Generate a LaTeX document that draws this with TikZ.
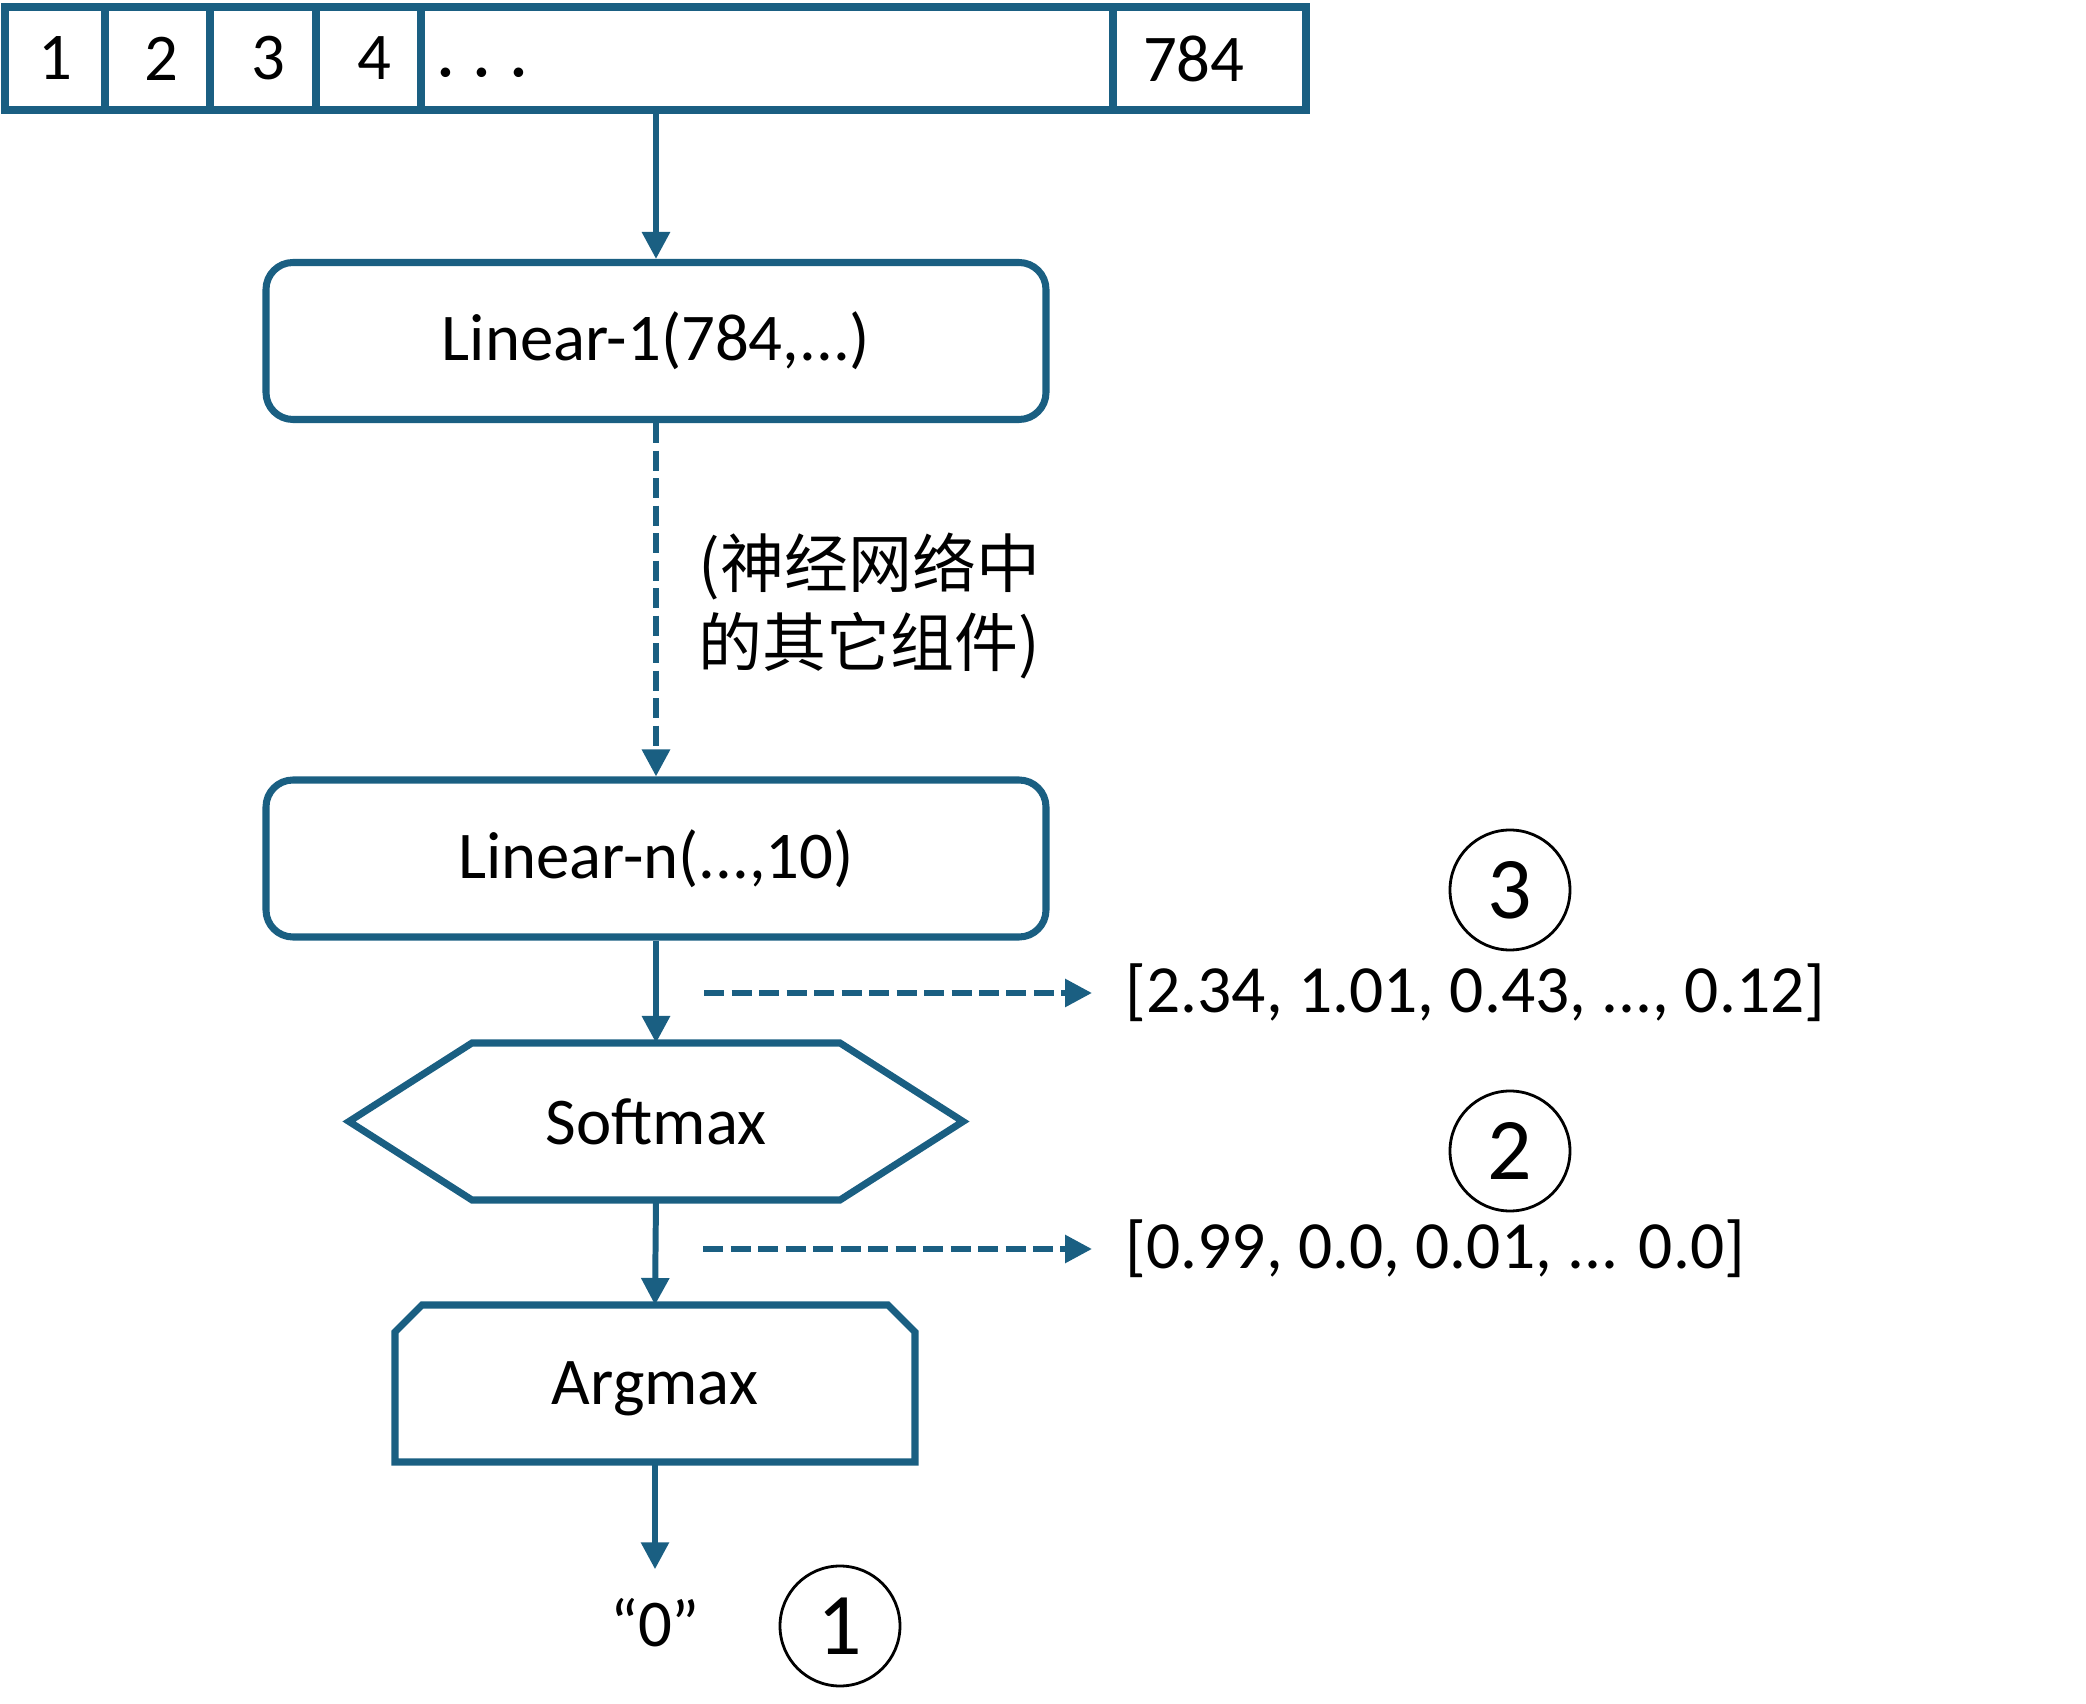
\documentclass[tikz,border=0pt]{standalone}
\usepackage{fontspec}
\setmainfont{Carlito}
\newfontfamily\cjkfont{Noto Sans CJK SC}
\usetikzlibrary{arrows.meta, calc}
\definecolor{netblue}{HTML}{1A5F82}

\tikzset{
    cell/.style={draw=netblue, line width=2pt, minimum height=1.03cm, anchor=north west, outer sep=0pt, font=\fontsize{19}{23}\selectfont},
    layer/.style={draw=netblue, line width=2pt, rounded corners=0.27cm, minimum width=7.8cm, minimum height=1.57cm, font=\fontsize{19}{23}\selectfont},
    shapetext/.style={minimum height=1.57cm, outer sep=0pt, text depth=0pt, font=\fontsize{19}{23}\selectfont},
    border/.style={draw=netblue, line width=2pt, line join=miter},
    flow/.style={netblue, line width=1.7pt, -{Triangle[length=0.27cm, width=0.27cm]}},
    flowdash/.style={flow, dash pattern=on 0.2cm off 0.075cm},
    vecnode/.style={anchor=west, inner sep=0pt, font=\fontsize{19.2}{23}\selectfont},
    stepnum/.style={circle, draw, line width=0.8pt, minimum size=1.2cm, inner sep=0pt, font=\fontsize{25}{28}\selectfont},
}
\newcommand{\lowdot}{\raisebox{-0.12cm}[0pt][0pt]{·}}

\begin{document}
\begin{tikzpicture}
    \useasboundingbox (0,0) rectangle (20.86,-17.04);
    % input vector
    \node[cell, minimum width=1.00cm] (c1) at (0.05,-0.07) {1};
    \node[cell, minimum width=1.05cm] (c2) at (1.05,-0.07) {\hspace{0.08cm}2};
    \node[cell, minimum width=1.06cm] (c3) at (2.10,-0.07) {\hspace{0.1cm}3};
    \node[cell, minimum width=1.05cm] (c4) at (3.16,-0.07) {\hspace{0.12cm}4};
    \node[cell, inner xsep=0.16cm, text width=6.60cm, align=left] (dots) at (4.21,-0.07) {\vphantom{4}\lowdot\hspace{0.2cm}\lowdot\hspace{0.2cm}\lowdot};
    \node[cell, inner xsep=0.3cm, text width=1.33cm, align=left] (last) at (11.13,-0.07) {784};

    % layers
    \node[layer] (lin1) at (6.56,-3.41) {Linear-1(784,...)};
    \node[layer] (linn) at (6.56,-8.585) {Linear-n(...,10)};
    \node[anchor=west, inner sep=0pt, align=left, font=\cjkfont\fontsize{18.2}{22.5}\selectfont] (note) at (6.98,-6.06) {(神经网络中\\的其它组件)};

    \node[shapetext, minimum width=6.14cm] (softmax) at (6.56,-11.215) {Softmax};
    \draw[border] (softmax.west) -- ([xshift=1.23cm]softmax.north west) -- ([xshift=-1.23cm]softmax.north east) -- (softmax.east) -- ([xshift=-1.23cm]softmax.south east) -- ([xshift=1.23cm]softmax.south west) -- cycle;

    \node[shapetext, minimum width=5.2cm, text depth=-0.12cm] (argmax) at (6.55,-13.835) {Argmax};
    \draw[border] (argmax.south west) -- ([yshift=-0.27cm]argmax.north west) -- ([xshift=0.27cm]argmax.north west) -- ([xshift=-0.27cm]argmax.north east) -- ([yshift=-0.27cm]argmax.north east) -- (argmax.south east) -- cycle;

    \node[font=\fontsize{19}{23}\selectfont] (zero) at (6.55,-16.23) {“0”};

    % outputs
    \node[vecnode] (logits) at (11.25,-9.93) {[2.34, 1.01, 0.43, ..., 0.12]};
    \node[vecnode] (probs) at (11.25,-12.49) {[0.99, 0.0, 0.01, ... 0.0]};

    \node[stepnum] (s3) at (15.10,-8.90) {3};
    \node[stepnum] (s2) at (15.10,-11.51) {2};
    \node[stepnum] (s1) at (8.40,-16.26) {1};

    % arrows
    \draw[flow] (lin1.north |- dots.south) -- (lin1.north);
    \draw[flowdash] (lin1.south) -- (linn.north);
    \draw[flow] (linn.south) -- (softmax.north);
    \draw[flow] (softmax.south) -- (argmax.north);
    \draw[flow] (argmax.south) -- ([yshift=0.17cm]zero.north);
    \draw[flowdash] ($(linn.south |- logits.west)+(0.48,0)$) -- ([xshift=-0.33cm]logits.west);
    \draw[flowdash] ($(argmax.north |- probs.west)+(0.48,0)$) -- ([xshift=-0.33cm]probs.west);
\end{tikzpicture}
\end{document}
